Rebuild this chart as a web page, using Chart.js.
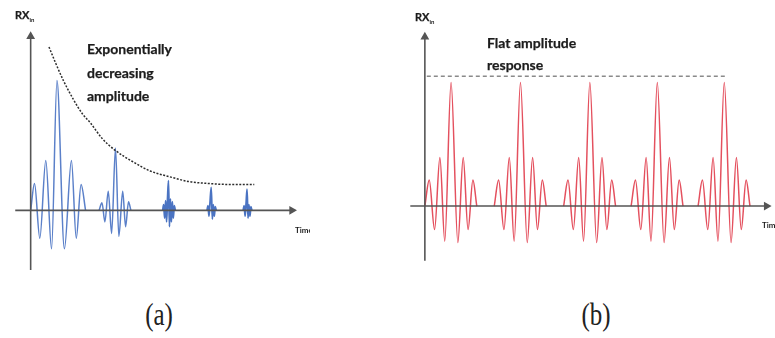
<!DOCTYPE html>
<html>
<head>
<meta charset="utf-8">
<script src="https://cdn.jsdelivr.net/npm/chart.js@4"></script>
<style>
  body { margin: 0; background: #fff; }
  #page { position: relative; width: 775px; height: 338px; overflow: hidden; background: #fff; }
  .panel { position: absolute; top: 0; height: 290px; overflow: hidden; }
  .txt { position: absolute; font-family: Lato, "Open Sans", sans-serif; font-weight: bold; color: #1c1c1c; white-space: nowrap; -webkit-text-stroke: 0.25px #1c1c1c; }
  .note { font-size: 14px; line-height: 23.5px; }
  .rx { font-size: 11px; }
  .rx sub { font-size: 6px; vertical-align: -3px; -webkit-text-stroke: 0; }
  .time { font-size: 8px; -webkit-text-stroke: 0; }
  .cap { position: absolute; top: 298px; width: 60px; text-align: center; font-family: "Liberation Serif", "DejaVu Serif", serif; font-size: 32px; line-height: 32px; color: #222; transform: scaleX(0.78); }
</style>
</head>
<body>
<div id="page">
  <div class="panel" style="left:0;width:310px">
    <canvas id="chartA" width="310" height="290"></canvas>
    <div class="txt time" style="left:295px;top:225px">Time</div>
  </div>
  <div class="panel" style="left:395px;width:380px">
    <canvas id="chartB" width="380" height="290"></canvas>
    <div class="txt time" style="left:367px;top:220px">Time</div>
  </div>
  <div class="txt rx" style="left:15px;top:8px">RX<sub>in</sub></div>
  <div class="txt note" style="left:87px;top:37px">Exponentially<br>decreasing<br>amplitude</div>
  <div class="txt rx" style="left:415px;top:10px">RX<sub>in</sub></div>
  <div class="txt note" style="left:487px;top:32px;line-height:22px">Flat amplitude<br>response</div>
  <div class="cap" style="left:129px">(a)</div>
  <div class="cap" style="left:566px">(b)</div>
</div>
<script>
// panel (a): decaying bursts (time, amplitude above the time axis)
const timeA1 = [26, 30, 35.5, 41.7, 47.7, 53.3, 61, 68.3, 73.3, 78.3, 83];
const ampA1  = [0, 28, -29, 52, -40, 135, -40, 52, -29, 27, 0];
const timeA2 = [97, 100, 103, 106.5, 110, 114, 117.5, 121.5, 124.5, 127.5, 130];
const ampA2  = [0, 8, -12, 20, -24, 65, -27, 20, -17, 9, 0];
const timeA3 = [163, 164, 165, 166, 167, 168, 169, 170, 171, 172, 173, 174, 175, 176];
const ampA3  = [0, 6, -8, 10, -12, 12, 31, -17, 12, -12, 9, -8, 5, 0];
const timeA4 = [209, 210, 211, 212, 213.3, 214.5, 215.5, 216.5, 217.5, 218.5];
const ampA4  = [0, 5, -6, 7, 24, -9, 6, -6, 4, 0];
const timeA5 = [246.5, 247.5, 248.5, 249.5, 250.5, 251.5, 252.5, 253.5, 254.5, 255.5];
const ampA5  = [0, 5, -6, 7, 22, -8, 6, -6, 4, 0];
const envTime = [45, 52, 60, 70, 80, 88, 100, 113, 133, 150, 170, 190, 210, 230, 258];
const envAmp  = [170, 153, 135, 116, 100, 91, 75, 63, 50, 41, 35, 30, 28, 27, 27];

// panel (b): identical bursts, one template placed at each burst centre
const burstOffsets = [-27, -22.5, -17, -11.5, -6.5, 0, 7, 12.5, 17.5, 22.5, 26.5];
const burstAmp     = [0, 27, -24.5, 50.5, -36.5, 128.5, -38, 50.5, -24.5, 27, 0];
const burstCenters = [447, 518.5, 590, 659.5, 728.5];
const flatTime = [422, 730];
const flatAmp  = [135, 135];

const BLUE = "#5b80c9", BLUE_DARK = "#4a73c2", RED = "#e4505e", AXIS = "#555";

const pts = (xs, ys) => xs.map((x, i) => ({ x, y: ys[i] }));

function wave(data, color, width) {
  return { data, borderColor: color, borderWidth: width, pointRadius: 0,
           cubicInterpolationMode: "monotone", fill: false };
}
function axis(data, rot) {
  return { data, borderColor: AXIS, borderWidth: 1.6, pointRadius: [0, 3.5],
           pointStyle: "triangle", pointRotation: [0, rot],
           pointBackgroundColor: AXIS, pointBorderColor: AXIS, tension: 0, clip: false };
}
function opts(xmin, xmax, ymin, ymax) {
  return {
    responsive: false, animation: false, devicePixelRatio: 1,
    layout: { padding: 0 },
    plugins: { legend: { display: false }, tooltip: { enabled: false } },
    scales: {
      x: { type: "linear", min: xmin, max: xmax, display: false },
      y: { min: ymin, max: ymax, display: false }
    }
  };
}

new Chart(document.getElementById("chartA"), {
  type: "line",
  data: {
    datasets: [
      axis([{ x: 10, y: 0 }, { x: 297, y: 0 }], 90),
      axis([{ x: 26, y: -62 }, { x: 26, y: 181 }], 0),
      { data: pts(envTime, envAmp), borderColor: "#2c2c2c", borderWidth: 1.5, borderDash: [2, 1.5],
        pointRadius: 0, cubicInterpolationMode: "monotone" },
      wave(pts(timeA1, ampA1), BLUE, 1.5),
      wave(pts(timeA2, ampA2), BLUE, 1.5),
      wave(pts(timeA3, ampA3), BLUE_DARK, 1.8),
      wave(pts(timeA4, ampA4), BLUE_DARK, 1.8),
      wave(pts(timeA5, ampA5), BLUE_DARK, 1.8)
    ]
  },
  options: opts(0, 310, -77, 213)
});

const burstsB = burstCenters.map(c => wave(pts(burstOffsets.map(o => c + o), burstAmp), RED, 1.5));

new Chart(document.getElementById("chartB"), {
  type: "line",
  data: {
    datasets: [
      axis([{ x: 405, y: 0 }, { x: 772, y: 0 }], 90),
      axis([{ x: 420, y: -57 }, { x: 420, y: 176 }], 0),
      { data: pts(flatTime, flatAmp), borderColor: "#8a8a8a", borderWidth: 1.5, borderDash: [4, 3],
        pointRadius: 0 },
      ...burstsB
    ]
  },
  options: opts(395, 775, -81.5, 208.5)
});
</script>
</body>
</html>
